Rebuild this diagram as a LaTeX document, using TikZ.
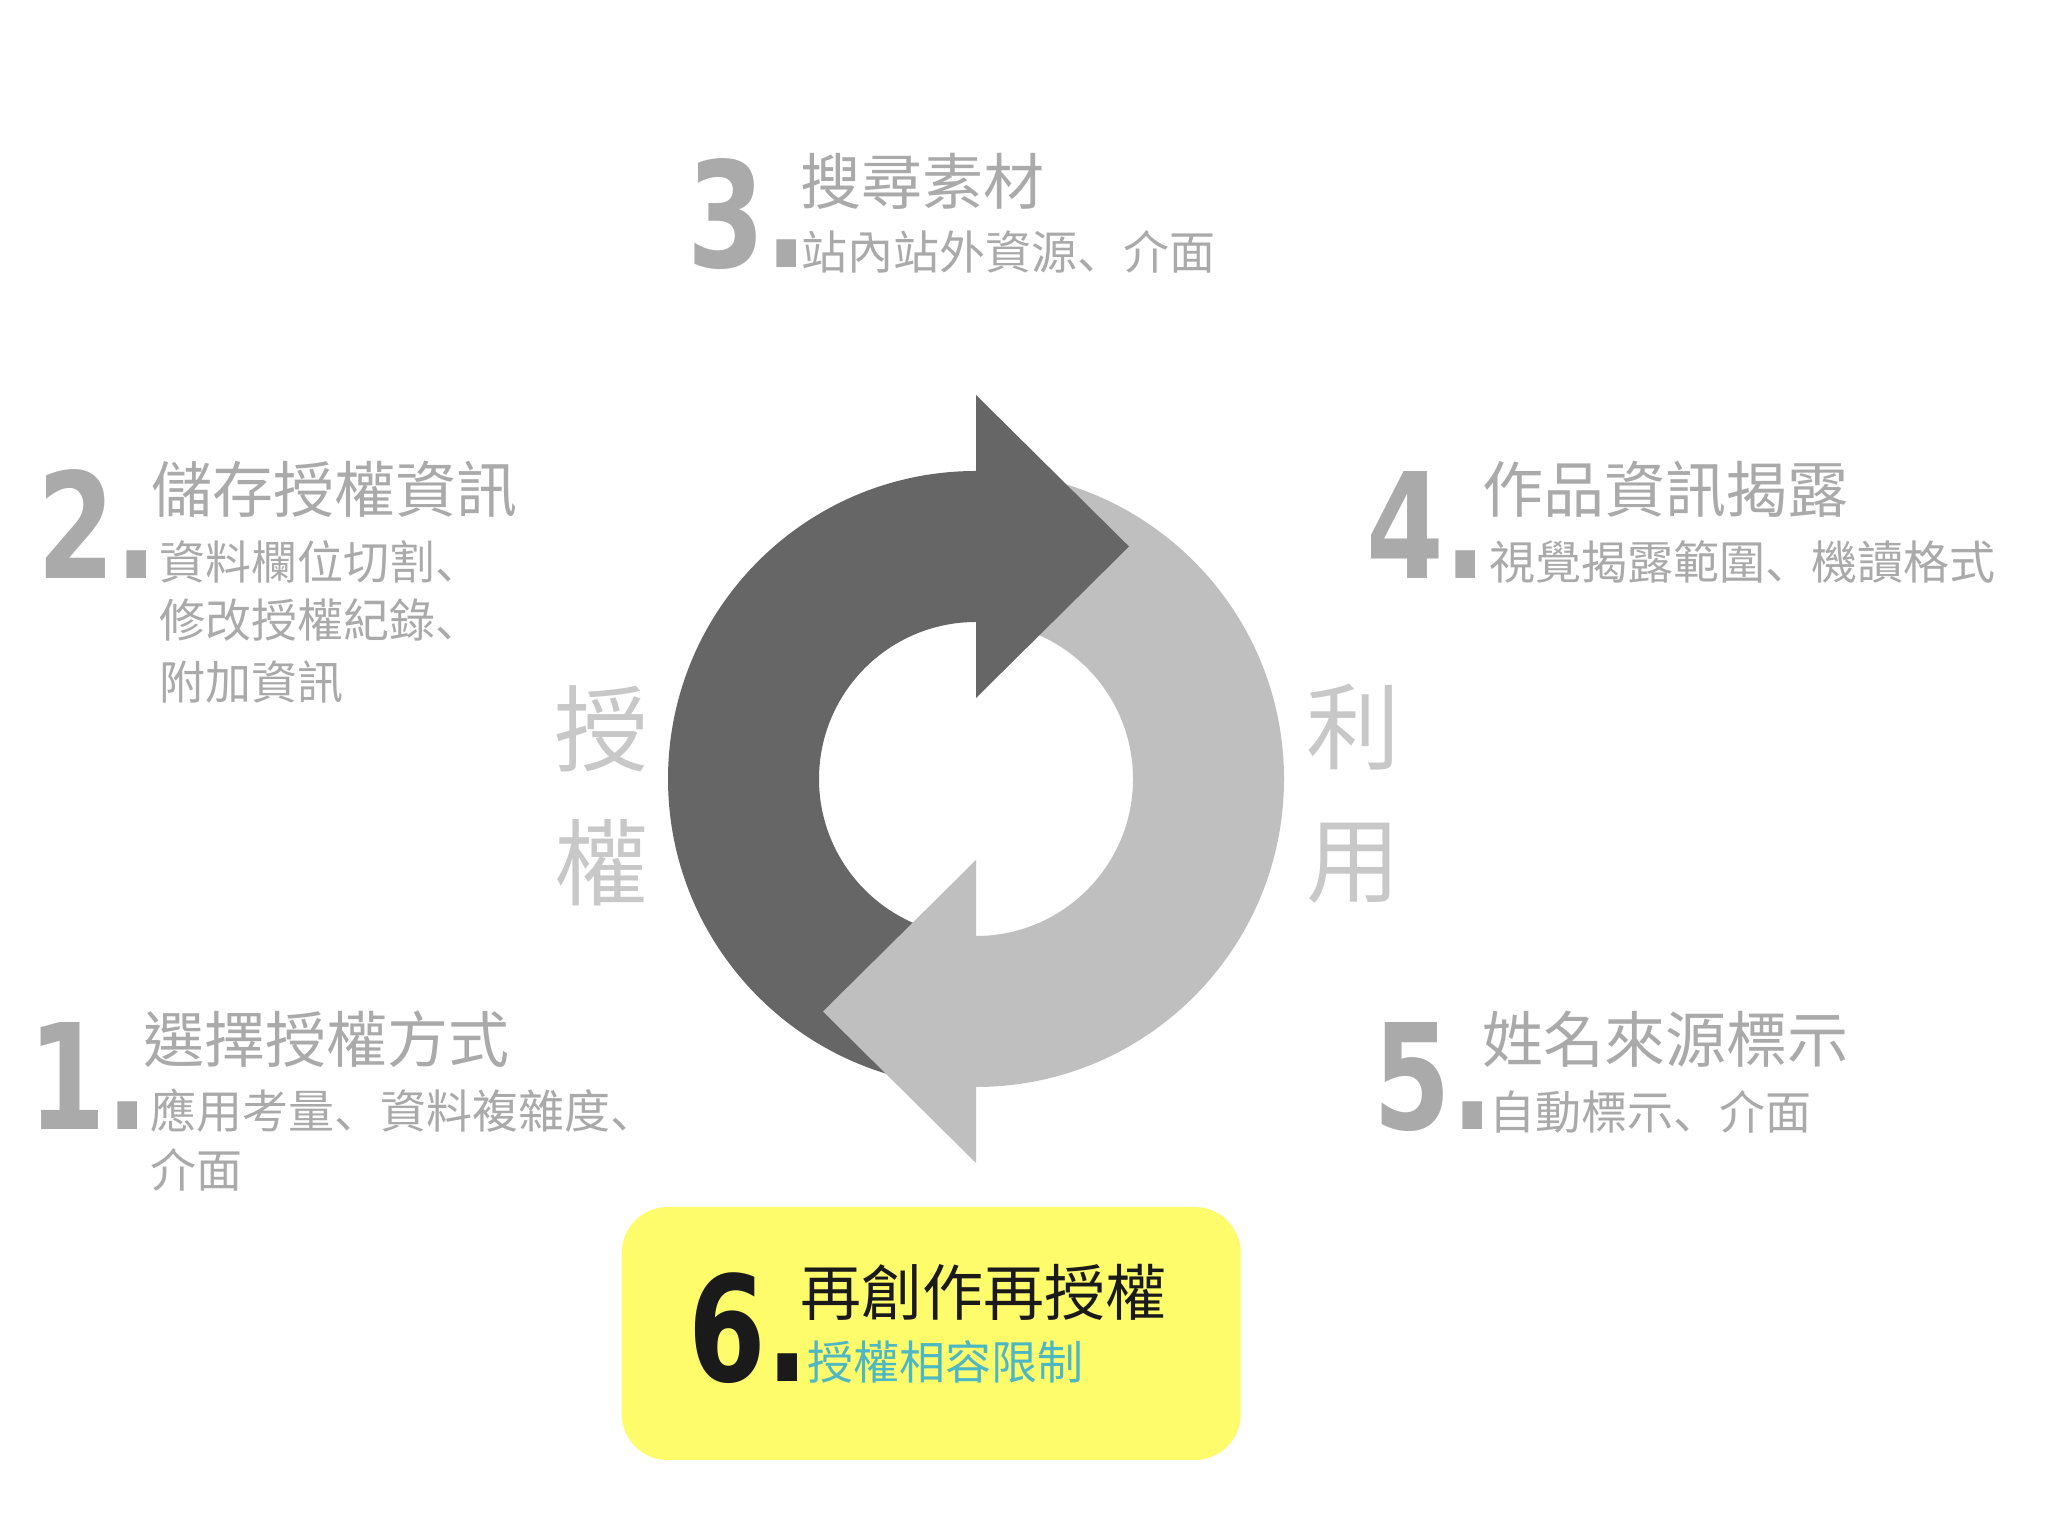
\documentclass[tikz,border=0pt]{standalone}
\usepackage{fontspec}
\usepackage{graphicx}
\newfontfamily\cjk{Noto Sans CJK TC}
\newfontfamily\cjkpunct{Noto Sans CJK SC}
\newfontfamily\numfont{DejaVu Sans}
\definecolor{txtgray}{HTML}{AAAAAA}
\definecolor{sidegray}{HTML}{C8C8C8}
\definecolor{ringdark}{HTML}{666666}
\definecolor{ringlight}{HTML}{BFBFBF}
\definecolor{boxyellow}{HTML}{FFFC6C}
\definecolor{inkblack}{HTML}{1A1A1A}
\definecolor{teal}{HTML}{4BB8C4}
\tikzset{
  numstyle/.style={inner sep=0pt, anchor=base east, text=txtgray,
    font=\numfont\bfseries\fontsize{73.4pt}{80pt}\selectfont},
  titlestyle/.style={inner sep=0pt, anchor=west, text=txtgray,
    font=\cjk\fontsize{30.5pt}{36pt}\selectfont},
  substyle/.style={inner sep=0pt, anchor=west, text=txtgray,
    font=\cjk\fontsize{23pt}{30pt}\selectfont},
  sidestyle/.style={inner sep=0pt, anchor=center, text=sidegray,
    font=\cjk\fontsize{47pt}{50pt}\selectfont},
}
\newcommand{\numtxt}[1]{\scalebox{0.76}[1]{#1}}
\newcommand{\dun}{{\cjkpunct 、}}
\begin{document}
\begin{tikzpicture}[x=0.5pt,y=0.5pt]
\useasboundingbox (0,0) rectangle (2048,1535);
\fill[white] (0,0) rectangle (2048,1535);
% ring
\coordinate (c) at (976,756);
\fill[ringdark] (976,1064) arc[start angle=90,end angle=270,radius=154pt]
  -- (976,599) arc[start angle=270,end angle=90,radius=78.5pt] -- cycle;
\fill[ringlight] (976,1064) arc[start angle=90,end angle=-90,radius=154pt]
  -- (976,599) arc[start angle=-90,end angle=90,radius=78.5pt] -- cycle;
\fill[ringdark] (976,1140) -- (1129,988.5) -- (976,837) -- cycle;
\fill[ringlight] (976,372) -- (823,523.5) -- (976,675) -- cycle;
% side labels
\node[sidestyle] (s1) at (601,806) {授};
\node[sidestyle] (s2) at (601,672) {權};
\node[sidestyle] (s3) at (1353,808) {利};
\node[sidestyle] (s4) at (1353,672) {用};
% group 3
\node[numstyle] (n3) at (808,1267) {\numtxt{3.}};
\node[titlestyle] (t3) at (800,1354) {搜尋素材};
\node[substyle] (u3) at (801,1283) {站內站外資源\dun 介面};
% group 2
\node[numstyle] (n2) at (158,956) {\numtxt{2.}};
\node[titlestyle] (t2) at (151,1046) {儲存授權資訊};
\node[substyle] (u2a) at (159,973.4) {資料欄位切割\dun};
\node[substyle] (u2b) at (159,914.6) {修改授權紀錄\dun};
\node[substyle] (u2c) at (159,852.6) {附加資訊};
% group 4
\node[numstyle] (n4) at (1487,956) {\numtxt{4.}};
\node[titlestyle] (t4) at (1482,1046) {作品資訊揭露};
\node[substyle] (u4) at (1489,973.4) {視覺揭露範圍\dun 機讀格式};
% group 1
\node[numstyle] (n1) at (149,405) {\numtxt{1.}};
\node[titlestyle] (t1) at (143,496) {選擇授權方式};
\node[substyle] (u1a) at (150,424) {應用考量\dun 資料複雜度\dun};
\node[substyle] (u1b) at (150,365.5) {介面};
% group 5
\node[numstyle] (n5) at (1494,405) {\numtxt{5.}};
\node[titlestyle] (t5) at (1482,496) {姓名來源標示};
\node[substyle] (u5) at (1489,423) {自動標示\dun 介面};
% group 6
\fill[boxyellow, rounded corners=23pt] (621.7,75) rectangle (1240.7,328);
\node[numstyle, text=inkblack] (n6) at (809,153) {\numtxt{6.}};
\node[titlestyle, text=inkblack] (t6) at (800,242.7) {再創作再授權};
\node[substyle, text=teal] (u6) at (807,173.5) {授權相容限制};
\end{tikzpicture}
\end{document}
